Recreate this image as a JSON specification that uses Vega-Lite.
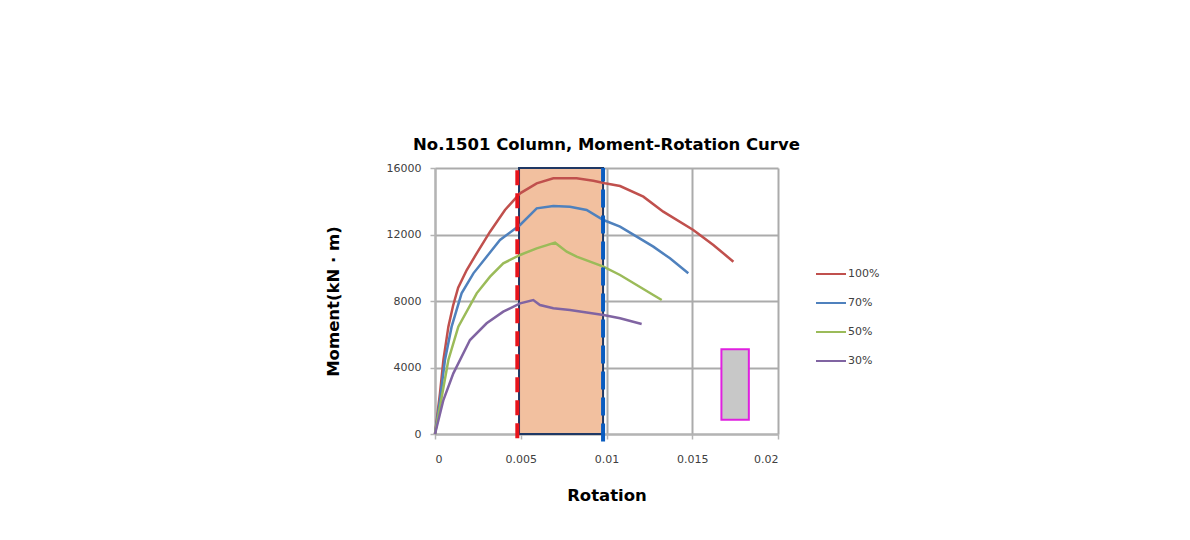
{
  "$schema": "https://vega.github.io/schema/vega-lite/v6.json",
  "width": 343,
  "height": 266,
  "autosize": {"type": "none"},
  "padding": {"left": 435, "top": 168, "right": 412, "bottom": 106},
  "background": "white",
  "config": {
    "view": {"stroke": null},
    "font": "DejaVu Sans",
    "axis": {
      "gridColor": "#ABABAB",
      "gridWidth": 2,
      "domainColor": "#B4B4B4",
      "domainWidth": 2,
      "tickColor": "#B4B4B4",
      "tickWidth": 1.5,
      "tickSize": 5,
      "labelFont": "DejaVu Sans",
      "labelFontSize": 11,
      "labelColor": "#404040",
      "titleFont": "DejaVu Sans",
      "titleFontSize": 16.5,
      "titleFontWeight": "bold",
      "titleColor": "#000000"
    }
  },
  "title": {
    "text": "No.1501  Column, Moment-Rotation Curve",
    "font": "DejaVu Sans",
    "fontSize": 16.5,
    "fontWeight": "bold",
    "color": "#000000",
    "anchor": "middle",
    "offset": 9
  },
  "datasets": {
    "curves": [
      {"s": "100%", "r": 0, "m": 0},
      {"s": "100%", "r": 0.00029, "m": 2446},
      {"s": "100%", "r": 0.00049, "m": 4451},
      {"s": "100%", "r": 0.00078, "m": 6456},
      {"s": "100%", "r": 0.00105, "m": 7700},
      {"s": "100%", "r": 0.00135, "m": 8800},
      {"s": "100%", "r": 0.00185, "m": 9865},
      {"s": "100%", "r": 0.00243, "m": 10867},
      {"s": "100%", "r": 0.00321, "m": 12170},
      {"s": "100%", "r": 0.00408, "m": 13474},
      {"s": "100%", "r": 0.00496, "m": 14476},
      {"s": "100%", "r": 0.00593, "m": 15078},
      {"s": "100%", "r": 0.0069, "m": 15378},
      {"s": "100%", "r": 0.00826, "m": 15378},
      {"s": "100%", "r": 0.00923, "m": 15238},
      {"s": "100%", "r": 0.00991, "m": 15078},
      {"s": "100%", "r": 0.01079, "m": 14917},
      {"s": "100%", "r": 0.01215, "m": 14276},
      {"s": "100%", "r": 0.01331, "m": 13373},
      {"s": "100%", "r": 0.01506, "m": 12271},
      {"s": "100%", "r": 0.01623, "m": 11368},
      {"s": "100%", "r": 0.0174, "m": 10366},
      {"s": "70%", "r": 0, "m": 0},
      {"s": "70%", "r": 0.00029, "m": 2045},
      {"s": "70%", "r": 0.00058, "m": 4451},
      {"s": "70%", "r": 0.00097, "m": 6456},
      {"s": "70%", "r": 0.00155, "m": 8461},
      {"s": "70%", "r": 0.00224, "m": 9664},
      {"s": "70%", "r": 0.00301, "m": 10667},
      {"s": "70%", "r": 0.00379, "m": 11669},
      {"s": "70%", "r": 0.00496, "m": 12571},
      {"s": "70%", "r": 0.00593, "m": 13574},
      {"s": "70%", "r": 0.0069, "m": 13714},
      {"s": "70%", "r": 0.00787, "m": 13674},
      {"s": "70%", "r": 0.00884, "m": 13474},
      {"s": "70%", "r": 0.00982, "m": 12872},
      {"s": "70%", "r": 0.01079, "m": 12471},
      {"s": "70%", "r": 0.01176, "m": 11870},
      {"s": "70%", "r": 0.01273, "m": 11268},
      {"s": "70%", "r": 0.0137, "m": 10566},
      {"s": "70%", "r": 0.01477, "m": 9664},
      {"s": "50%", "r": 0, "m": 0},
      {"s": "50%", "r": 0.00029, "m": 1644},
      {"s": "50%", "r": 0.00078, "m": 4451},
      {"s": "50%", "r": 0.00136, "m": 6456},
      {"s": "50%", "r": 0.00243, "m": 8461},
      {"s": "50%", "r": 0.00321, "m": 9464},
      {"s": "50%", "r": 0.00398, "m": 10266},
      {"s": "50%", "r": 0.00496, "m": 10767},
      {"s": "50%", "r": 0.00593, "m": 11168},
      {"s": "50%", "r": 0.007, "m": 11509},
      {"s": "50%", "r": 0.00768, "m": 10967},
      {"s": "50%", "r": 0.00826, "m": 10667},
      {"s": "50%", "r": 0.00982, "m": 10065},
      {"s": "50%", "r": 0.01079, "m": 9564},
      {"s": "50%", "r": 0.01176, "m": 8962},
      {"s": "50%", "r": 0.01273, "m": 8361},
      {"s": "50%", "r": 0.01322, "m": 8060},
      {"s": "30%", "r": 0, "m": 0},
      {"s": "30%", "r": 0.00049, "m": 2045},
      {"s": "30%", "r": 0.00107, "m": 3649},
      {"s": "30%", "r": 0.00204, "m": 5654},
      {"s": "30%", "r": 0.00301, "m": 6657},
      {"s": "30%", "r": 0.00398, "m": 7358},
      {"s": "30%", "r": 0.00496, "m": 7860},
      {"s": "30%", "r": 0.00573, "m": 8060},
      {"s": "30%", "r": 0.00612, "m": 7759},
      {"s": "30%", "r": 0.0069, "m": 7559},
      {"s": "30%", "r": 0.00787, "m": 7459},
      {"s": "30%", "r": 0.00982, "m": 7158},
      {"s": "30%", "r": 0.01079, "m": 6957},
      {"s": "30%", "r": 0.01205, "m": 6617}
    ],
    "band": [{"x1": 0.0049, "x2": 0.0098, "y1": 0, "y2": 16000}],
    "redline": [{"x": 0.0048, "y1": -250, "y2": 16000}],
    "blueline": [{"x": 0.0098, "y1": -450, "y2": 16000}],
    "box": [{"x1": 0.0167, "x2": 0.0183, "y1": 850, "y2": 5100}]
  },
  "layer": [
    {
      "data": {"name": "band"},
      "mark": {"type": "rect", "fill": "#F2C09F", "stroke": "#1F3864", "strokeWidth": 2},
      "encoding": {
        "x": {
          "field": "x1", "type": "quantitative",
          "scale": {"domain": [0, 0.02], "nice": false, "zero": false},
          "axis": {
            "values": [0, 0.005, 0.01, 0.015, 0.02],
            "format": "~g",
            "title": "Rotation",
            "labelPadding": 14,
            "titleX": 171.5,
            "titleY": 61,
            "titleAlign": "center",
            "titleBaseline": "middle"
          }
        },
        "x2": {"field": "x2"},
        "y": {
          "field": "y1", "type": "quantitative",
          "scale": {"domain": [0, 16000], "nice": false},
          "axis": {
            "values": [0, 4000, 8000, 12000, 16000],
            "format": "d",
            "title": "Moment(kN · m)",
            "labelPadding": 9,
            "titleX": -102,
            "titleY": 133,
            "titleAlign": "center",
            "titleBaseline": "middle"
          }
        },
        "y2": {"field": "y2"}
      }
    },
    {
      "data": {"name": "curves"},
      "mark": {"type": "line", "strokeWidth": 2.5},
      "encoding": {
        "x": {"field": "r", "type": "quantitative"},
        "y": {"field": "m", "type": "quantitative"},
        "color": {
          "field": "s", "type": "nominal",
          "scale": {"domain": ["100%", "70%", "50%", "30%"], "range": ["#C0504D", "#4F81BD", "#9BBB59", "#8064A2"]},
          "legend": {
            "title": null,
            "orient": "none",
            "legendX": 380,
            "legendY": 90,
            "symbolType": "stroke",
            "symbolSize": 900,
            "symbolStrokeWidth": 2,
            "labelFontSize": 11,
            "labelColor": "#404040",
            "labelFont": "DejaVu Sans",
            "labelOffset": 1,
            "rowPadding": 8
          }
        }
      }
    },
    {
      "data": {"name": "redline"},
      "mark": {"type": "rule", "color": "#E8141B", "strokeWidth": 4, "strokeDash": [15, 8]},
      "encoding": {
        "x": {"field": "x", "type": "quantitative"},
        "y": {"field": "y1", "type": "quantitative"},
        "y2": {"field": "y2"}
      }
    },
    {
      "data": {"name": "blueline"},
      "mark": {"type": "rule", "color": "#0A5CC0", "strokeWidth": 4, "strokeDash": [18, 8]},
      "encoding": {
        "x": {"field": "x", "type": "quantitative"},
        "y": {"field": "y1", "type": "quantitative"},
        "y2": {"field": "y2"}
      }
    },
    {
      "data": {"name": "box"},
      "mark": {"type": "rect", "fill": "#C8C8C8", "stroke": "#E020E0", "strokeWidth": 2},
      "encoding": {
        "x": {"field": "x1", "type": "quantitative"},
        "x2": {"field": "x2"},
        "y": {"field": "y1", "type": "quantitative"},
        "y2": {"field": "y2"}
      }
    }
  ]
}
